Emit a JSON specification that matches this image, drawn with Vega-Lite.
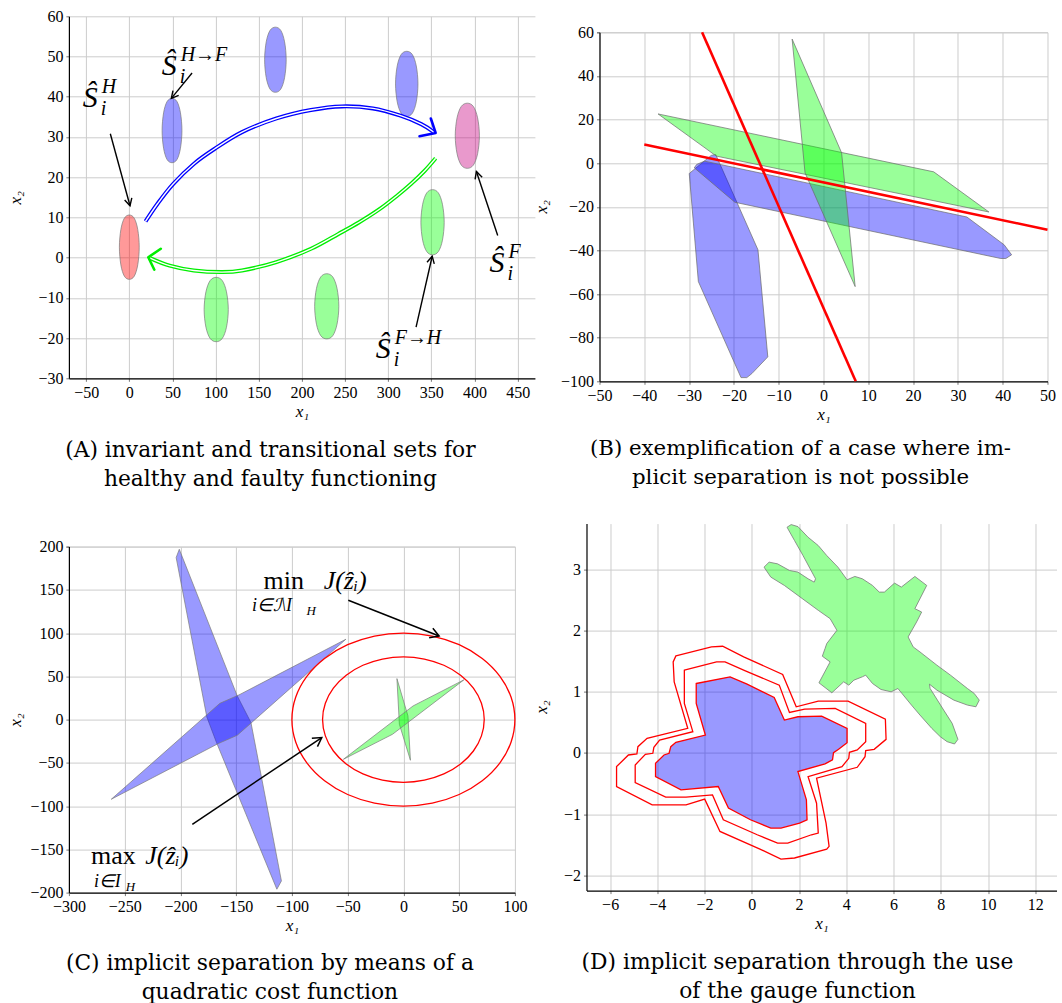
{
"$schema": "https://vega.github.io/schema/vega-lite/v6.json",
"background": "white",
"padding": {"left": 6.9, "top": 0, "right": 0, "bottom": 0},
"config": {
 "font": "Liberation Serif",
 "view": {"stroke": null},
 "axis": {"labelFont": "Liberation Serif", "labelFontSize": 16, "labelColor": "black", "titleFont": "Liberation Serif", "titleFontSize": 17, "titleFontStyle": "italic", "titleFontWeight": "normal", "titleColor": "black", "gridColor": "#cccccc", "gridWidth": 1, "domainColor": "black", "domainWidth": 1.2, "tickColor": "#777777", "tickSize": 3, "labelPadding": 3, "labelFlush": false, "labelOverlap": false, "titlePadding": 3},
 "title": {"font": "DejaVu Serif", "fontSize": 21.8, "fontWeight": "normal", "color": "black", "orient": "bottom", "anchor": "middle", "lineHeight": 29}
},
"datasets": {
 "blobsA": [
  {"id":"r","c":"red","i":0,"x":0,"y":10.6},{"id":"r","c":"red","i":1,"x":5.75,"y":9.8},{"id":"r","c":"red","i":2,"x":9.78,"y":7.0},{"id":"r","c":"red","i":3,"x":11.5,"y":2.6},{"id":"r","c":"red","i":4,"x":9.78,"y":-1.8},{"id":"r","c":"red","i":5,"x":5.75,"y":-4.6},{"id":"r","c":"red","i":6,"x":0,"y":-5.4},{"id":"r","c":"red","i":7,"x":-5.75,"y":-4.6},{"id":"r","c":"red","i":8,"x":-9.78,"y":-1.8},{"id":"r","c":"red","i":9,"x":-11.5,"y":2.6},{"id":"r","c":"red","i":10,"x":-9.78,"y":7.0},{"id":"r","c":"red","i":11,"x":-5.75,"y":9.8},
  {"id":"b1","c":"blue","i":0,"x":49.5,"y":39.6},{"id":"b1","c":"blue","i":1,"x":55.25,"y":38.8},{"id":"b1","c":"blue","i":2,"x":59.28,"y":36.0},{"id":"b1","c":"blue","i":3,"x":61.0,"y":31.6},{"id":"b1","c":"blue","i":4,"x":59.28,"y":27.2},{"id":"b1","c":"blue","i":5,"x":55.25,"y":24.4},{"id":"b1","c":"blue","i":6,"x":49.5,"y":23.6},{"id":"b1","c":"blue","i":7,"x":43.75,"y":24.4},{"id":"b1","c":"blue","i":8,"x":39.72,"y":27.2},{"id":"b1","c":"blue","i":9,"x":38.0,"y":31.6},{"id":"b1","c":"blue","i":10,"x":39.72,"y":36.0},{"id":"b1","c":"blue","i":11,"x":43.75,"y":38.8},
  {"id":"b2","c":"blue","i":0,"x":169.3,"y":57.3},{"id":"b2","c":"blue","i":1,"x":175.55,"y":56.49},{"id":"b2","c":"blue","i":2,"x":179.93,"y":53.66},{"id":"b2","c":"blue","i":3,"x":181.8,"y":49.2},{"id":"b2","c":"blue","i":4,"x":179.93,"y":44.74},{"id":"b2","c":"blue","i":5,"x":175.55,"y":41.91},{"id":"b2","c":"blue","i":6,"x":169.3,"y":41.1},{"id":"b2","c":"blue","i":7,"x":163.05,"y":41.91},{"id":"b2","c":"blue","i":8,"x":158.67,"y":44.74},{"id":"b2","c":"blue","i":9,"x":156.8,"y":49.2},{"id":"b2","c":"blue","i":10,"x":158.67,"y":53.66},{"id":"b2","c":"blue","i":11,"x":163.05,"y":56.49},
  {"id":"b3","c":"blue","i":0,"x":321.5,"y":51.3},{"id":"b3","c":"blue","i":1,"x":328,"y":50.49},{"id":"b3","c":"blue","i":2,"x":332.55,"y":47.66},{"id":"b3","c":"blue","i":3,"x":334.5,"y":43.2},{"id":"b3","c":"blue","i":4,"x":332.55,"y":38.74},{"id":"b3","c":"blue","i":5,"x":328,"y":35.91},{"id":"b3","c":"blue","i":6,"x":321.5,"y":35.1},{"id":"b3","c":"blue","i":7,"x":315,"y":35.91},{"id":"b3","c":"blue","i":8,"x":310.45,"y":38.74},{"id":"b3","c":"blue","i":9,"x":308.5,"y":43.2},{"id":"b3","c":"blue","i":10,"x":310.45,"y":47.66},{"id":"b3","c":"blue","i":11,"x":315,"y":50.49},
  {"id":"p","c":"pink","i":0,"x":391.7,"y":38.4},{"id":"p","c":"pink","i":1,"x":398.7,"y":37.59},{"id":"p","c":"pink","i":2,"x":403.6,"y":34.76},{"id":"p","c":"pink","i":3,"x":405.7,"y":30.3},{"id":"p","c":"pink","i":4,"x":403.6,"y":25.84},{"id":"p","c":"pink","i":5,"x":398.7,"y":23.01},{"id":"p","c":"pink","i":6,"x":391.7,"y":22.2},{"id":"p","c":"pink","i":7,"x":384.7,"y":23.01},{"id":"p","c":"pink","i":8,"x":379.8,"y":25.84},{"id":"p","c":"pink","i":9,"x":377.7,"y":30.3},{"id":"p","c":"pink","i":10,"x":379.8,"y":34.76},{"id":"p","c":"pink","i":11,"x":384.7,"y":37.59},
  {"id":"g1","c":"green","i":0,"x":351.4,"y":16.9},{"id":"g1","c":"green","i":1,"x":358.15,"y":16.09},{"id":"g1","c":"green","i":2,"x":362.88,"y":13.26},{"id":"g1","c":"green","i":3,"x":364.9,"y":8.8},{"id":"g1","c":"green","i":4,"x":362.88,"y":4.34},{"id":"g1","c":"green","i":5,"x":358.15,"y":1.51},{"id":"g1","c":"green","i":6,"x":351.4,"y":0.7},{"id":"g1","c":"green","i":7,"x":344.65,"y":1.51},{"id":"g1","c":"green","i":8,"x":339.92,"y":4.34},{"id":"g1","c":"green","i":9,"x":337.9,"y":8.8},{"id":"g1","c":"green","i":10,"x":339.92,"y":13.26},{"id":"g1","c":"green","i":11,"x":344.65,"y":16.09},
  {"id":"g2","c":"green","i":0,"x":100.7,"y":-4.9},{"id":"g2","c":"green","i":1,"x":107.7,"y":-5.7},{"id":"g2","c":"green","i":2,"x":112.6,"y":-8.5},{"id":"g2","c":"green","i":3,"x":114.7,"y":-12.9},{"id":"g2","c":"green","i":4,"x":112.6,"y":-17.3},{"id":"g2","c":"green","i":5,"x":107.7,"y":-20.1},{"id":"g2","c":"green","i":6,"x":100.7,"y":-20.9},{"id":"g2","c":"green","i":7,"x":93.7,"y":-20.1},{"id":"g2","c":"green","i":8,"x":88.8,"y":-17.3},{"id":"g2","c":"green","i":9,"x":86.7,"y":-12.9},{"id":"g2","c":"green","i":10,"x":88.8,"y":-8.5},{"id":"g2","c":"green","i":11,"x":93.7,"y":-5.7},
  {"id":"g3","c":"green","i":0,"x":228.8,"y":-4.0},{"id":"g3","c":"green","i":1,"x":235.8,"y":-4.81},{"id":"g3","c":"green","i":2,"x":240.7,"y":-7.64},{"id":"g3","c":"green","i":3,"x":242.8,"y":-12.1},{"id":"g3","c":"green","i":4,"x":240.7,"y":-16.56},{"id":"g3","c":"green","i":5,"x":235.8,"y":-19.39},{"id":"g3","c":"green","i":6,"x":228.8,"y":-20.2},{"id":"g3","c":"green","i":7,"x":221.8,"y":-19.39},{"id":"g3","c":"green","i":8,"x":216.9,"y":-16.56},{"id":"g3","c":"green","i":9,"x":214.8,"y":-12.1},{"id":"g3","c":"green","i":10,"x":216.9,"y":-7.64},{"id":"g3","c":"green","i":11,"x":221.8,"y":-4.81}
 ],
 "arcsA": [
  {"id":"b","i":0,"x":18.8,"y":9.0},{"id":"b","i":1,"x":32.7,"y":13.4},{"id":"b","i":2,"x":50.7,"y":18.3},{"id":"b","i":3,"x":74.7,"y":23.3},{"id":"b","i":4,"x":98.6,"y":27.0},{"id":"b","i":5,"x":130.6,"y":31.2},{"id":"b","i":6,"x":170.5,"y":34.6},{"id":"b","i":7,"x":210.5,"y":36.7},{"id":"b","i":8,"x":246.4,"y":37.6},{"id":"b","i":9,"x":282.3,"y":37.1},{"id":"b","i":10,"x":314.3,"y":35.3},{"id":"b","i":11,"x":338.3,"y":33.2},{"id":"b","i":12,"x":352.2,"y":31.3},
  {"id":"g","i":0,"x":355.0,"y":24.7},{"id":"g","i":1,"x":342.3,"y":21.6},{"id":"g","i":2,"x":326.3,"y":18.3},{"id":"g","i":3,"x":310.3,"y":15.4},{"id":"g","i":4,"x":290.3,"y":12.1},{"id":"g","i":5,"x":266.4,"y":8.8},{"id":"g","i":6,"x":242.4,"y":5.9},{"id":"g","i":7,"x":210.5,"y":2.2},{"id":"g","i":8,"x":170.5,"y":-1.1},{"id":"g","i":9,"x":130.6,"y":-3.2},{"id":"g","i":10,"x":106.6,"y":-3.6},{"id":"g","i":11,"x":74.7,"y":-3.2},{"id":"g","i":12,"x":46.7,"y":-2.0},{"id":"g","i":13,"x":22.8,"y":0.0}
 ],
 "arcHeadsA": [
  {"id":"b","i":0,"x":349.4,"y":34.6},{"id":"b","i":1,"x":355,"y":31.0},{"id":"b","i":2,"x":336.3,"y":30.2},
  {"id":"g","i":0,"x":36.5,"y":2.2},{"id":"g","i":1,"x":22,"y":0.1},{"id":"g","i":2,"x":29,"y":-3.0}
 ],
 "arrowsA": [
  {"id":"a1","i":0,"x":-22,"y":30.8},{"id":"a1","i":1,"x":0.8,"y":12.9},
  {"id":"a1h","i":0,"x":2.9,"y":14.85},{"id":"a1h","i":1,"x":0.8,"y":12.9},{"id":"a1h","i":2,"x":-5.4,"y":14.35},
  {"id":"a2","i":0,"x":72.7,"y":45.9},{"id":"a2","i":1,"x":48.7,"y":39.6},
  {"id":"a2h","i":0,"x":57.2,"y":40.36},{"id":"a2h","i":1,"x":48.7,"y":39.6},{"id":"a2h","i":2,"x":50.6,"y":41.53},
  {"id":"a3","i":0,"x":426.9,"y":5.5},{"id":"a3","i":1,"x":402.2,"y":21.4},
  {"id":"a3h","i":0,"x":400.7,"y":19.45},{"id":"a3h","i":1,"x":402.2,"y":21.4},{"id":"a3h","i":2,"x":408.9,"y":20.0},
  {"id":"a4","i":0,"x":332.3,"y":-17.3},{"id":"a4","i":1,"x":351,"y":0.35},
  {"id":"a4h","i":0,"x":345.0,"y":-1.16},{"id":"a4h","i":1,"x":351,"y":0.35},{"id":"a4h","i":2,"x":353.4,"y":-1.56}
 ],
 "labelsA": [
  {"x":-53.9,"y":37.4,"main":"Ŝ","sup":"H","sub":"i"},
  {"x":37.5,"y":45.4,"main":"Ŝ","sup":"H→F","sub":"i"},
  {"x":417.3,"y":-3.5,"main":"Ŝ","sup":"F","sub":"i"},
  {"x":285.5,"y":-25.0,"main":"Ŝ","sup":"F→H","sub":"i"}
 ],
 "polysB": [
  {"id":"b1","c":"blue","i":0,"x":-29.97,"y":-4.73},{"id":"b1","c":"blue","i":1,"x":-25.06,"y":3.55},{"id":"b1","c":"blue","i":2,"x":-24.07,"y":4.01},{"id":"b1","c":"blue","i":3,"x":-14.63,"y":-39.71},{"id":"b1","c":"blue","i":4,"x":-12.43,"y":-88.8},{"id":"b1","c":"blue","i":5,"x":-15.99,"y":-96.47},{"id":"b1","c":"blue","i":6,"x":-17.12,"y":-98.31},{"id":"b1","c":"blue","i":7,"x":-18.41,"y":-98.31},{"id":"b1","c":"blue","i":8,"x":-27.93,"y":-54.28},
  {"id":"b2","c":"blue","i":0,"x":-28.31,"y":-0.59},{"id":"b2","c":"blue","i":1,"x":-26.57,"y":0.94},{"id":"b2","c":"blue","i":2,"x":32.01,"y":-24.68},{"id":"b2","c":"blue","i":3,"x":40.32,"y":-37.41},{"id":"b2","c":"blue","i":4,"x":41.99,"y":-42.01},{"id":"b2","c":"blue","i":5,"x":40.7,"y":-43.7},{"id":"b2","c":"blue","i":6,"x":39.57,"y":-43.7},{"id":"b2","c":"blue","i":7,"x":-19.77,"y":-17.93},{"id":"b2","c":"blue","i":8,"x":-28.84,"y":-2.13},
  {"id":"g1","c":"green","i":0,"x":-36.92,"y":22.57},{"id":"g1","c":"green","i":1,"x":24.6,"y":-3.97},{"id":"g1","c":"green","i":2,"x":36.92,"y":-22.37},{"id":"g1","c":"green","i":3,"x":-23.92,"y":3.24},
  {"id":"g2","c":"green","i":0,"x":-7.0,"y":56.9},{"id":"g2","c":"green","i":1,"x":4.04,"y":4.78},{"id":"g2","c":"green","i":2,"x":7.07,"y":-56.58},{"id":"g2","c":"green","i":3,"x":-4.12,"y":-4.43}
 ],
 "linesB": [
  {"id":"l1","i":0,"x":-27.1,"y":60},{"id":"l1","i":1,"x":7.2,"y":-100},
  {"id":"l2","i":0,"x":-40,"y":8.6},{"id":"l2","i":1,"x":50,"y":-30.5}
 ],
 "polysC": [
  {"id":"b1","c":"blue","i":0,"x":-201.0,"y":196.9},{"id":"b1","c":"blue","i":1,"x":-149.0,"y":27.4},{"id":"b1","c":"blue","i":2,"x":-136.7,"y":-3.5},{"id":"b1","c":"blue","i":3,"x":-109.4,"y":-186.5},{"id":"b1","c":"blue","i":4,"x":-113.5,"y":-196.1},{"id":"b1","c":"blue","i":5,"x":-167.6,"y":-26.6},{"id":"b1","c":"blue","i":6,"x":-176.3,"y":3.1},{"id":"b1","c":"blue","i":7,"x":-203.8,"y":187.3},
  {"id":"b2","c":"blue","i":0,"x":-262.0,"y":-92.1},{"id":"b2","c":"blue","i":1,"x":-164.5,"y":18.9},{"id":"b2","c":"blue","i":2,"x":-147.5,"y":28.5},{"id":"b2","c":"blue","i":3,"x":-51.6,"y":92.9},{"id":"b2","c":"blue","i":4,"x":-149.0,"y":-18.1},{"id":"b2","c":"blue","i":5,"x":-166.0,"y":-27.7},
  {"id":"g1","c":"green","i":0,"x":-5.8,"y":47.4},{"id":"g1","c":"green","i":1,"x":4.1,"y":4.2},{"id":"g1","c":"green","i":2,"x":6.3,"y":-47.0},{"id":"g1","c":"green","i":3,"x":-3.6,"y":-5.4},
  {"id":"g2","c":"green","i":0,"x":-53.8,"y":-45.9},{"id":"g2","c":"green","i":1,"x":8.7,"y":15.8},{"id":"g2","c":"green","i":2,"x":54.2,"y":45.9},{"id":"g2","c":"green","i":3,"x":-9.8,"y":-17.0}
 ],
 "circlesC": [
  {"id":"o","i":0,"x":100,"y":0},{"id":"o","i":1,"x":96.6,"y":25.9},{"id":"o","i":2,"x":86.6,"y":50},{"id":"o","i":3,"x":70.7,"y":70.7},{"id":"o","i":4,"x":50,"y":86.6},{"id":"o","i":5,"x":25.9,"y":96.6},{"id":"o","i":6,"x":0,"y":100},{"id":"o","i":7,"x":-25.9,"y":96.6},{"id":"o","i":8,"x":-50,"y":86.6},{"id":"o","i":9,"x":-70.7,"y":70.7},{"id":"o","i":10,"x":-86.6,"y":50},{"id":"o","i":11,"x":-96.6,"y":25.9},{"id":"o","i":12,"x":-100,"y":0},{"id":"o","i":13,"x":-96.6,"y":-25.9},{"id":"o","i":14,"x":-86.6,"y":-50},{"id":"o","i":15,"x":-70.7,"y":-70.7},{"id":"o","i":16,"x":-50,"y":-86.6},{"id":"o","i":17,"x":-25.9,"y":-96.6},{"id":"o","i":18,"x":0,"y":-100},{"id":"o","i":19,"x":25.9,"y":-96.6},{"id":"o","i":20,"x":50,"y":-86.6},{"id":"o","i":21,"x":70.7,"y":-70.7},{"id":"o","i":22,"x":86.6,"y":-50},{"id":"o","i":23,"x":96.6,"y":-25.9},
  {"id":"n","i":0,"x":72.5,"y":0},{"id":"n","i":1,"x":70.0,"y":18.8},{"id":"n","i":2,"x":62.8,"y":36.3},{"id":"n","i":3,"x":51.3,"y":51.3},{"id":"n","i":4,"x":36.3,"y":62.8},{"id":"n","i":5,"x":18.8,"y":70.0},{"id":"n","i":6,"x":0,"y":72.5},{"id":"n","i":7,"x":-18.8,"y":70.0},{"id":"n","i":8,"x":-36.3,"y":62.8},{"id":"n","i":9,"x":-51.3,"y":51.3},{"id":"n","i":10,"x":-62.8,"y":36.3},{"id":"n","i":11,"x":-70.0,"y":18.8},{"id":"n","i":12,"x":-72.5,"y":0},{"id":"n","i":13,"x":-70.0,"y":-18.8},{"id":"n","i":14,"x":-62.8,"y":-36.3},{"id":"n","i":15,"x":-51.3,"y":-51.3},{"id":"n","i":16,"x":-36.3,"y":-62.8},{"id":"n","i":17,"x":-18.8,"y":-70.0},{"id":"n","i":18,"x":0,"y":-72.5},{"id":"n","i":19,"x":18.8,"y":-70.0},{"id":"n","i":20,"x":36.3,"y":-62.8},{"id":"n","i":21,"x":51.3,"y":-51.3},{"id":"n","i":22,"x":62.8,"y":-36.3},{"id":"n","i":23,"x":70.0,"y":-18.8}
 ],
 "arrowsC": [
  {"id":"m","i":0,"x":-49.4,"y":138},{"id":"m","i":1,"x":32,"y":96.7},
  {"id":"mh","i":0,"x":26.4,"y":105.7},{"id":"mh","i":1,"x":32,"y":96.7},{"id":"mh","i":2,"x":23.1,"y":94.6},
  {"id":"x","i":0,"x":-189.3,"y":-121},{"id":"x","i":1,"x":-73.2,"y":-20.8},
  {"id":"xh","i":0,"x":-82.1,"y":-21.6},{"id":"xh","i":1,"x":-73.2,"y":-20.8},{"id":"xh","i":2,"x":-77.1,"y":-31.2}
 ],
 "textC": [
  {"k":"op","x":-125.4,"y":151,"t":"min"},{"k":"op","x":-280.1,"y":-167,"t":"max"},
  {"k":"J","x":-71.5,"y":151,"t":"J(ẑᵢ)"},{"k":"J","x":-231.5,"y":-167,"t":"J(ẑᵢ)"},
  {"k":"sub","x":-135.7,"y":126,"t":"i∈ℐ\\I"},{"k":"sub","x":-277.6,"y":-193,"t":"i∈I"},
  {"k":"h","x":-87,"y":121.5,"t":"H"},{"k":"h","x":-249,"y":-198,"t":"H"}
 ],
 "polyD": [
  {"id":"blue","i":0,"x":-2.354,"y":1.136},{"id":"blue","i":1,"x":-0.919,"y":1.245},{"id":"blue","i":2,"x":-0.201,"y":1.125},{"id":"blue","i":3,"x":0.947,"y":0.908},{"id":"blue","i":4,"x":1.378,"y":0.538},{"id":"blue","i":5,"x":1.952,"y":0.592},{"id":"blue","i":6,"x":2.957,"y":0.603},{"id":"blue","i":7,"x":4.033,"y":0.402},{"id":"blue","i":8,"x":4.033,"y":0.168},{"id":"blue","i":9,"x":3.674,"y":0.06},{"id":"blue","i":10,"x":3.459,"y":0.005},{"id":"blue","i":11,"x":3.416,"y":-0.114},{"id":"blue","i":12,"x":3.1,"y":-0.179},{"id":"blue","i":13,"x":1.952,"y":-0.304},{"id":"blue","i":14,"x":2.311,"y":-0.766},{"id":"blue","i":15,"x":2.339,"y":-1.092},{"id":"blue","i":16,"x":2.024,"y":-1.147},{"id":"blue","i":17,"x":1.234,"y":-1.228},{"id":"blue","i":18,"x":0.804,"y":-1.228},{"id":"blue","i":19,"x":-0.058,"y":-1.092},{"id":"blue","i":20,"x":-0.991,"y":-0.902},{"id":"blue","i":21,"x":-1.421,"y":-0.549},{"id":"blue","i":22,"x":-3.0,"y":-0.603},{"id":"blue","i":23,"x":-4.077,"y":-0.386},{"id":"blue","i":24,"x":-4.077,"y":-0.168},{"id":"blue","i":25,"x":-3.718,"y":-0.033},{"id":"blue","i":26,"x":-3.503,"y":-0.005},{"id":"blue","i":27,"x":-3.431,"y":0.103},{"id":"blue","i":28,"x":-3.215,"y":0.174},{"id":"blue","i":29,"x":-1.967,"y":0.293},{"id":"blue","i":30,"x":-2.354,"y":0.81},
  {"id":"r2","i":0,"x":-2.857,"y":1.353},{"id":"r2","i":1,"x":-1.493,"y":1.489},{"id":"r2","i":2,"x":-1.134,"y":1.489},{"id":"r2","i":3,"x":-0.273,"y":1.342},{"id":"r2","i":4,"x":1.162,"y":1.109},{"id":"r2","i":5,"x":1.593,"y":0.663},{"id":"r2","i":6,"x":2.239,"y":0.717},{"id":"r2","i":7,"x":3.531,"y":0.728},{"id":"r2","i":8,"x":4.822,"y":0.484},{"id":"r2","i":9,"x":4.822,"y":0.185},{"id":"r2","i":10,"x":4.464,"y":0.049},{"id":"r2","i":11,"x":4.133,"y":0.011},{"id":"r2","i":12,"x":4.105,"y":-0.087},{"id":"r2","i":13,"x":3.818,"y":-0.223},{"id":"r2","i":14,"x":2.382,"y":-0.386},{"id":"r2","i":15,"x":2.741,"y":-0.821},{"id":"r2","i":16,"x":2.813,"y":-1.31},{"id":"r2","i":17,"x":2.526,"y":-1.337},{"id":"r2","i":18,"x":1.521,"y":-1.473},{"id":"r2","i":19,"x":1.091,"y":-1.473},{"id":"r2","i":20,"x":0.229,"y":-1.337},{"id":"r2","i":21,"x":-1.206,"y":-1.092},{"id":"r2","i":22,"x":-1.665,"y":-0.685},{"id":"r2","i":23,"x":-2.785,"y":-0.723},{"id":"r2","i":24,"x":-3.646,"y":-0.723},{"id":"r2","i":25,"x":-4.938,"y":-0.484},{"id":"r2","i":26,"x":-4.938,"y":-0.196},{"id":"r2","i":27,"x":-4.507,"y":-0.022},{"id":"r2","i":28,"x":-4.191,"y":-0.005},{"id":"r2","i":29,"x":-4.148,"y":0.092},{"id":"r2","i":30,"x":-3.904,"y":0.212},{"id":"r2","i":31,"x":-2.498,"y":0.348},{"id":"r2","i":32,"x":-2.857,"y":0.81},
  {"id":"r3","i":0,"x":-3.215,"y":1.587},{"id":"r3","i":1,"x":-1.708,"y":1.734},{"id":"r3","i":2,"x":-1.235,"y":1.745},{"id":"r3","i":3,"x":-0.345,"y":1.571},{"id":"r3","i":4,"x":1.306,"y":1.283},{"id":"r3","i":5,"x":1.88,"y":0.755},{"id":"r3","i":6,"x":2.813,"y":0.848},{"id":"r3","i":7,"x":4.076,"y":0.848},{"id":"r3","i":8,"x":5.655,"y":0.554},{"id":"r3","i":9,"x":5.684,"y":0.223},{"id":"r3","i":10,"x":5.181,"y":0.06},{"id":"r3","i":11,"x":4.822,"y":0.038},{"id":"r3","i":12,"x":4.794,"y":-0.06},{"id":"r3","i":13,"x":4.464,"y":-0.234},{"id":"r3","i":14,"x":2.741,"y":-0.413},{"id":"r3","i":15,"x":3.143,"y":-1.147},{"id":"r3","i":16,"x":3.272,"y":-1.527},{"id":"r3","i":17,"x":3.172,"y":-1.571},{"id":"r3","i":18,"x":1.808,"y":-1.717},{"id":"r3","i":19,"x":1.234,"y":-1.734},{"id":"r3","i":20,"x":0.344,"y":-1.571},{"id":"r3","i":21,"x":-1.349,"y":-1.283},{"id":"r3","i":22,"x":-1.995,"y":-0.755},{"id":"r3","i":23,"x":-2.785,"y":-0.848},{"id":"r3","i":24,"x":-4.22,"y":-0.848},{"id":"r3","i":25,"x":-5.727,"y":-0.549},{"id":"r3","i":26,"x":-5.727,"y":-0.223},{"id":"r3","i":27,"x":-5.225,"y":-0.033},{"id":"r3","i":28,"x":-4.866,"y":-0.016},{"id":"r3","i":29,"x":-4.823,"y":0.103},{"id":"r3","i":30,"x":-4.435,"y":0.239},{"id":"r3","i":31,"x":-2.713,"y":0.402},{"id":"r3","i":32,"x":-3.287,"y":1.163},{"id":"r3","i":33,"x":-3.33,"y":1.489},
  {"id":"green","i":0,"x":1.492,"y":3.69},{"id":"green","i":1,"x":1.665,"y":3.734},{"id":"green","i":2,"x":1.952,"y":3.701},{"id":"green","i":3,"x":2.382,"y":3.527},{"id":"green","i":4,"x":2.813,"y":3.391},{"id":"green","i":5,"x":3.172,"y":3.228},{"id":"green","i":6,"x":3.646,"y":3.038},{"id":"green","i":7,"x":4.033,"y":2.832},{"id":"green","i":8,"x":4.363,"y":2.886},{"id":"green","i":9,"x":4.679,"y":2.848},{"id":"green","i":10,"x":5.11,"y":2.739},{"id":"green","i":11,"x":5.397,"y":2.63},{"id":"green","i":12,"x":5.612,"y":2.63},{"id":"green","i":13,"x":6.043,"y":2.777},{"id":"green","i":14,"x":6.33,"y":2.712},{"id":"green","i":15,"x":6.904,"y":2.886},{"id":"green","i":16,"x":7.406,"y":2.739},{"id":"green","i":17,"x":6.904,"y":2.359},{"id":"green","i":18,"x":7.191,"y":2.304},{"id":"green","i":19,"x":6.976,"y":2.141},{"id":"green","i":20,"x":6.617,"y":1.897},{"id":"green","i":21,"x":6.832,"y":1.734},{"id":"green","i":22,"x":7.119,"y":1.652},{"id":"green","i":23,"x":7.837,"y":1.435},{"id":"green","i":24,"x":8.411,"y":1.272},{"id":"green","i":25,"x":9.129,"y":1.054},{"id":"green","i":26,"x":9.416,"y":0.973},{"id":"green","i":27,"x":9.631,"y":0.864},{"id":"green","i":28,"x":9.488,"y":0.755},{"id":"green","i":29,"x":9.129,"y":0.783},{"id":"green","i":30,"x":8.555,"y":0.864},{"id":"green","i":31,"x":7.837,"y":1.027},{"id":"green","i":32,"x":7.521,"y":1.125},{"id":"green","i":33,"x":7.55,"y":1.054},{"id":"green","i":34,"x":8.124,"y":0.701},{"id":"green","i":35,"x":8.483,"y":0.484},{"id":"green","i":36,"x":8.727,"y":0.223},{"id":"green","i":37,"x":8.583,"y":0.147},{"id":"green","i":38,"x":8.268,"y":0.185},{"id":"green","i":39,"x":7.98,"y":0.266},{"id":"green","i":40,"x":7.621,"y":0.402},{"id":"green","i":41,"x":7.119,"y":0.62},{"id":"green","i":42,"x":6.76,"y":0.783},{"id":"green","i":43,"x":6.186,"y":1.054},{"id":"green","i":44,"x":5.899,"y":1.0},{"id":"green","i":45,"x":5.468,"y":1.038},{"id":"green","i":46,"x":5.11,"y":1.136},{"id":"green","i":47,"x":4.822,"y":1.272},{"id":"green","i":48,"x":4.679,"y":1.245},{"id":"green","i":49,"x":4.32,"y":1.19},{"id":"green","i":50,"x":4.105,"y":1.109},{"id":"green","i":51,"x":3.89,"y":1.163},{"id":"green","i":52,"x":3.387,"y":0.984},{"id":"green","i":53,"x":2.842,"y":1.147},{"id":"green","i":54,"x":3.315,"y":1.489},{"id":"green","i":55,"x":2.985,"y":1.582},{"id":"green","i":56,"x":3.1,"y":1.707},{"id":"green","i":57,"x":3.172,"y":1.788},{"id":"green","i":58,"x":3.602,"y":2.005},{"id":"green","i":59,"x":3.315,"y":2.196},{"id":"green","i":60,"x":2.813,"y":2.332},{"id":"green","i":61,"x":1.952,"y":2.576},{"id":"green","i":62,"x":1.378,"y":2.739},{"id":"green","i":63,"x":0.804,"y":2.875},{"id":"green","i":64,"x":0.517,"y":3.038},{"id":"green","i":65,"x":0.732,"y":3.12},{"id":"green","i":66,"x":1.091,"y":3.092},{"id":"green","i":67,"x":1.593,"y":2.984},{"id":"green","i":68,"x":1.952,"y":2.957},{"id":"green","i":69,"x":2.382,"y":2.848},{"id":"green","i":70,"x":2.641,"y":2.793},{"id":"green","i":71,"x":2.698,"y":2.848},{"id":"green","i":72,"x":2.167,"y":3.228},{"id":"green","i":73,"x":1.808,"y":3.473}
 ]
},
"columns": 2,
"align": "none",
"spacing": {"row": 7.3, "column": -2.4},
"concat": [
  {"width": 1, "height": 1, "data": {"values": [{"s": 1}]}, "mark": {"type": "point", "size": 1, "filled": true, "color": "white", "opacity": 1}},
  {"width": 1, "height": 1, "data": {"values": [{"s": 1}]}, "mark": {"type": "point", "size": 1, "filled": true, "color": "white", "opacity": 1}},
  {
   "width": 466, "height": 362,
   "title": {"text": ["(A) invariant and transitional sets for", "healthy and faulty functioning"], "dx": -31.5, "offset": 20.5},
   "encoding": {
    "x": {"field": "x", "type": "quantitative", "scale": {"domain": [-70, 470], "nice": false, "zero": false}, "axis": {"values": [-50,0,50,100,150,200,250,300,350,400,450], "title": "x₁", "labelFont": "Liberation Serif"}},
    "y": {"field": "y", "type": "quantitative", "scale": {"domain": [-30, 60], "nice": false, "zero": false}, "axis": {"values": [-30,-20,-10,0,10,20,30,40,50,60], "title": "x₂", "labelFont": "Liberation Serif", "titleX": -53, "titleY": 181, "titleAngle": 270, "titleBaseline": "middle", "titleAlign": "center"}}
   },
   "layer": [
    {"data": {"name": "blobsA"}, "mark": {"type": "line", "interpolate": "cardinal-closed", "stroke": "#7a7a7a", "strokeWidth": 0.7, "fillOpacity": 0.4}, "encoding": {"detail": {"field": "id"}, "order": {"field": "i", "type": "quantitative"}, "fill": {"field": "c", "type": "nominal", "scale": {"domain": ["red","blue","pink","green"], "range": ["#ff0000","#0000ff","#c8007f","#00ff00"]}, "legend": null}}},
    {"data": {"name": "arcsA"}, "mark": {"type": "line", "interpolate": "cardinal", "strokeWidth": 4}, "encoding": {"detail": {"field": "id"}, "order": {"field": "i", "type": "quantitative"}, "stroke": {"field": "id", "type": "nominal", "scale": {"domain": ["b","g"], "range": ["#0000ff","#00ee00"]}, "legend": null}}},
    {"data": {"name": "arcsA"}, "mark": {"type": "line", "interpolate": "cardinal", "strokeWidth": 1.4, "stroke": "white"}, "encoding": {"detail": {"field": "id"}, "order": {"field": "i", "type": "quantitative"}}},
    {"data": {"name": "arcHeadsA"}, "mark": {"type": "line", "strokeWidth": 2.6, "strokeCap": "round", "strokeJoin": "round"}, "encoding": {"detail": {"field": "id"}, "order": {"field": "i", "type": "quantitative"}, "stroke": {"field": "id", "type": "nominal", "scale": {"domain": ["b","g"], "range": ["#0000ff","#00ee00"]}, "legend": null}}},
    {"data": {"name": "arrowsA"}, "mark": {"type": "line", "strokeWidth": 1.4, "stroke": "black"}, "encoding": {"detail": {"field": "id"}, "order": {"field": "i", "type": "quantitative"}}},
    {"data": {"name": "labelsA"}, "mark": {"type": "text", "font": "Liberation Serif", "fontStyle": "italic", "fontSize": 30, "align": "left", "baseline": "alphabetic"}, "encoding": {"text": {"field": "main"}}},
    {"data": {"name": "labelsA"}, "mark": {"type": "text", "font": "Liberation Serif", "fontStyle": "italic", "fontSize": 20, "align": "left", "baseline": "alphabetic", "dx": 19, "dy": -14}, "encoding": {"text": {"field": "sup"}}},
    {"data": {"name": "labelsA"}, "mark": {"type": "text", "font": "Liberation Serif", "fontStyle": "italic", "fontSize": 20, "align": "left", "baseline": "alphabetic", "dx": 18, "dy": 8}, "encoding": {"text": {"field": "sub"}}},
    {"mark": {"type": "point", "shape": "triangle-right", "size": 22, "filled": true, "color": "black", "opacity": 1}, "encoding": {"x": {"datum": 470}, "y": {"datum": -30}}},
    {"mark": {"type": "point", "shape": "triangle-up", "size": 22, "filled": true, "color": "black", "opacity": 1}, "encoding": {"x": {"datum": -70}, "y": {"datum": 60}}}
   ]
  },
  {
   "width": 448, "height": 349,
   "title": {"text": ["(B) exemplification of a case where im-", "plicit separation is not possible"], "dx": -23, "offset": 15.8, "fontSize": 21.3},
   "encoding": {
    "x": {"field": "x", "type": "quantitative", "scale": {"domain": [-50, 50], "nice": false, "zero": false}, "axis": {"values": [-50,-40,-30,-20,-10,0,10,20,30,40,50], "title": "x₁", "labelFont": "Liberation Serif"}},
    "y": {"field": "y", "type": "quantitative", "scale": {"domain": [-100, 60], "nice": false, "zero": false}, "axis": {"values": [-100,-80,-60,-40,-20,0,20,40,59.99,60], "title": "x₂", "labelFont": "Liberation Serif", "labelColor": {"condition": {"test": "datum.value == 59.99", "value": "white"}, "value": "black"}, "labelOffset": {"condition": {"test": "datum.value == 59.99", "value": -16}, "value": 0}, "titleX": -58, "titleY": 174, "titleAngle": 270, "titleBaseline": "middle", "titleAlign": "center"}}
   },
   "layer": [
    {"data": {"name": "polysB"}, "mark": {"type": "line", "interpolate": "linear-closed", "stroke": "#6a6a6a", "strokeWidth": 0.7, "fillOpacity": 0.4}, "encoding": {"detail": {"field": "id"}, "order": {"field": "i", "type": "quantitative"}, "fill": {"field": "c", "type": "nominal", "scale": {"domain": ["blue","green"], "range": ["#0000ff","#00ff00"]}, "legend": null}}},
    {"data": {"name": "linesB"}, "mark": {"type": "line", "stroke": "red", "strokeWidth": 2.6}, "encoding": {"detail": {"field": "id"}, "order": {"field": "i", "type": "quantitative"}}},
    {"mark": {"type": "point", "shape": "triangle-right", "size": 22, "filled": true, "color": "black", "opacity": 1}, "encoding": {"x": {"datum": 50}, "y": {"datum": -100}}},
    {"mark": {"type": "point", "shape": "triangle-up", "size": 22, "filled": true, "color": "black", "opacity": 1}, "encoding": {"x": {"datum": -50}, "y": {"datum": 60}}}
   ]
  },
  {
   "width": 446, "height": 346,
   "title": {"text": ["(C) implicit separation by means of a", "quadratic cost function"], "dx": -22, "offset": 19.2},
   "encoding": {
    "x": {"field": "x", "type": "quantitative", "scale": {"domain": [-300, 100], "nice": false, "zero": false}, "axis": {"values": [-300,-250,-200,-150,-100,-50,0,50,100], "title": "x₁", "labelFont": "Liberation Serif"}},
    "y": {"field": "y", "type": "quantitative", "scale": {"domain": [-200, 200], "nice": false, "zero": false}, "axis": {"values": [-200,-150,-100,-50,0,50,100,150,199.99,200], "title": "x₂", "labelFont": "Liberation Serif", "labelColor": {"condition": {"test": "datum.value == 199.99", "value": "white"}, "value": "black"}, "labelOffset": {"condition": {"test": "datum.value == 199.99", "value": -40}, "value": 0}, "titleX": -53, "titleY": 173, "titleAngle": 270, "titleBaseline": "middle", "titleAlign": "center"}}
   },
   "layer": [
    {"data": {"name": "polysC"}, "mark": {"type": "line", "interpolate": "linear-closed", "stroke": "#7a7a7a", "strokeWidth": 0.7, "fillOpacity": 0.4}, "encoding": {"detail": {"field": "id"}, "order": {"field": "i", "type": "quantitative"}, "fill": {"field": "c", "type": "nominal", "scale": {"domain": ["blue","green"], "range": ["#0000ff","#00ff00"]}, "legend": null}}},
    {"data": {"name": "circlesC"}, "mark": {"type": "line", "interpolate": "cardinal-closed", "stroke": "red", "strokeWidth": 1.3}, "encoding": {"detail": {"field": "id"}, "order": {"field": "i", "type": "quantitative"}}},
    {"data": {"name": "arrowsC"}, "mark": {"type": "line", "strokeWidth": 1.5, "stroke": "black"}, "encoding": {"detail": {"field": "id"}, "order": {"field": "i", "type": "quantitative"}}},
    {"data": {"name": "textC"}, "transform": [{"filter": "datum.k == 'op'"}], "mark": {"type": "text", "font": "Liberation Serif", "fontSize": 26, "align": "left", "baseline": "alphabetic"}, "encoding": {"text": {"field": "t"}}},
    {"data": {"name": "textC"}, "transform": [{"filter": "datum.k == 'J'"}], "mark": {"type": "text", "font": "Liberation Serif", "fontStyle": "italic", "fontSize": 26, "align": "left", "baseline": "alphabetic"}, "encoding": {"text": {"field": "t"}}},
    {"data": {"name": "textC"}, "transform": [{"filter": "datum.k == 'sub'"}], "mark": {"type": "text", "font": "Liberation Serif", "fontStyle": "italic", "fontSize": 18, "align": "left", "baseline": "alphabetic"}, "encoding": {"text": {"field": "t"}}},
    {"data": {"name": "textC"}, "transform": [{"filter": "datum.k == 'h'"}], "mark": {"type": "text", "font": "Liberation Serif", "fontStyle": "italic", "fontSize": 13, "align": "left", "baseline": "alphabetic"}, "encoding": {"text": {"field": "t"}}},
    {"mark": {"type": "point", "shape": "triangle-right", "size": 22, "filled": true, "color": "black", "opacity": 1}, "encoding": {"x": {"datum": 100}, "y": {"datum": -200}}},
    {"mark": {"type": "point", "shape": "triangle-up", "size": 22, "filled": true, "color": "black", "opacity": 1}, "encoding": {"x": {"datum": -300}, "y": {"datum": 200}}}
   ]
  },
  {
   "width": 470, "height": 367,
   "title": {"text": ["(D) implicit separation through the use", "of the gauge function"], "dx": -24, "offset": 20},
   "data": {"name": "polyD"},
   "encoding": {
    "x": {"field": "x", "type": "quantitative", "scale": {"domain": [-7, 12.9], "nice": false, "zero": false}, "axis": {"values": [-6,-4,-2,0,2,4,6,8,10,12], "title": "x₁", "labelFont": "Liberation Serif"}},
    "y": {"field": "y", "type": "quantitative", "scale": {"domain": [-2.25, 3.75], "nice": false, "zero": false}, "axis": {"values": [-2,-1,0,1,2,3,3.74], "title": "x₂", "labelFont": "Liberation Serif", "labelColor": {"condition": {"test": "datum.value == 3.74", "value": "white"}, "value": "black"}, "labelOffset": {"condition": {"test": "datum.value == 3.74", "value": -0.7}, "value": 0}, "gridOpacity": {"condition": {"test": "datum.value == 3.74", "value": 0}, "value": 1}, "tickOpacity": {"condition": {"test": "datum.value == 3.74", "value": 0}, "value": 1}, "titleX": -44.7, "titleY": 183, "titleAngle": 270, "titleBaseline": "middle", "titleAlign": "center"}}
   },
   "layer": [
    {"transform": [{"filter": "datum.id == 'r2' || datum.id == 'r3'"}], "mark": {"type": "line", "interpolate": "linear-closed", "stroke": "red", "strokeWidth": 1.3}, "encoding": {"detail": {"field": "id"}, "order": {"field": "i", "type": "quantitative"}}},
    {"transform": [{"filter": "datum.id == 'blue'"}], "mark": {"type": "line", "interpolate": "linear-closed", "stroke": "red", "strokeWidth": 1.3, "fill": "#0000ff", "fillOpacity": 0.4}, "encoding": {"detail": {"field": "id"}, "order": {"field": "i", "type": "quantitative"}}},
    {"transform": [{"filter": "datum.id == 'green'"}], "mark": {"type": "line", "interpolate": "linear-closed", "stroke": "#7a7a7a", "strokeWidth": 0.8, "fill": "#00ff00", "fillOpacity": 0.4}, "encoding": {"detail": {"field": "id"}, "order": {"field": "i", "type": "quantitative"}}},
    {"data": {"values": [{"s": 1}]}, "mark": {"type": "point", "shape": "triangle-right", "size": 22, "filled": true, "color": "black", "opacity": 1}, "encoding": {"x": {"datum": 12.9}, "y": {"datum": -2.25}}},
    {"data": {"values": [{"s": 1}]}, "mark": {"type": "point", "shape": "triangle-up", "size": 22, "filled": true, "color": "black", "opacity": 1}, "encoding": {"x": {"datum": -7}, "y": {"datum": 3.75}}}
   ]
  }
]
}
